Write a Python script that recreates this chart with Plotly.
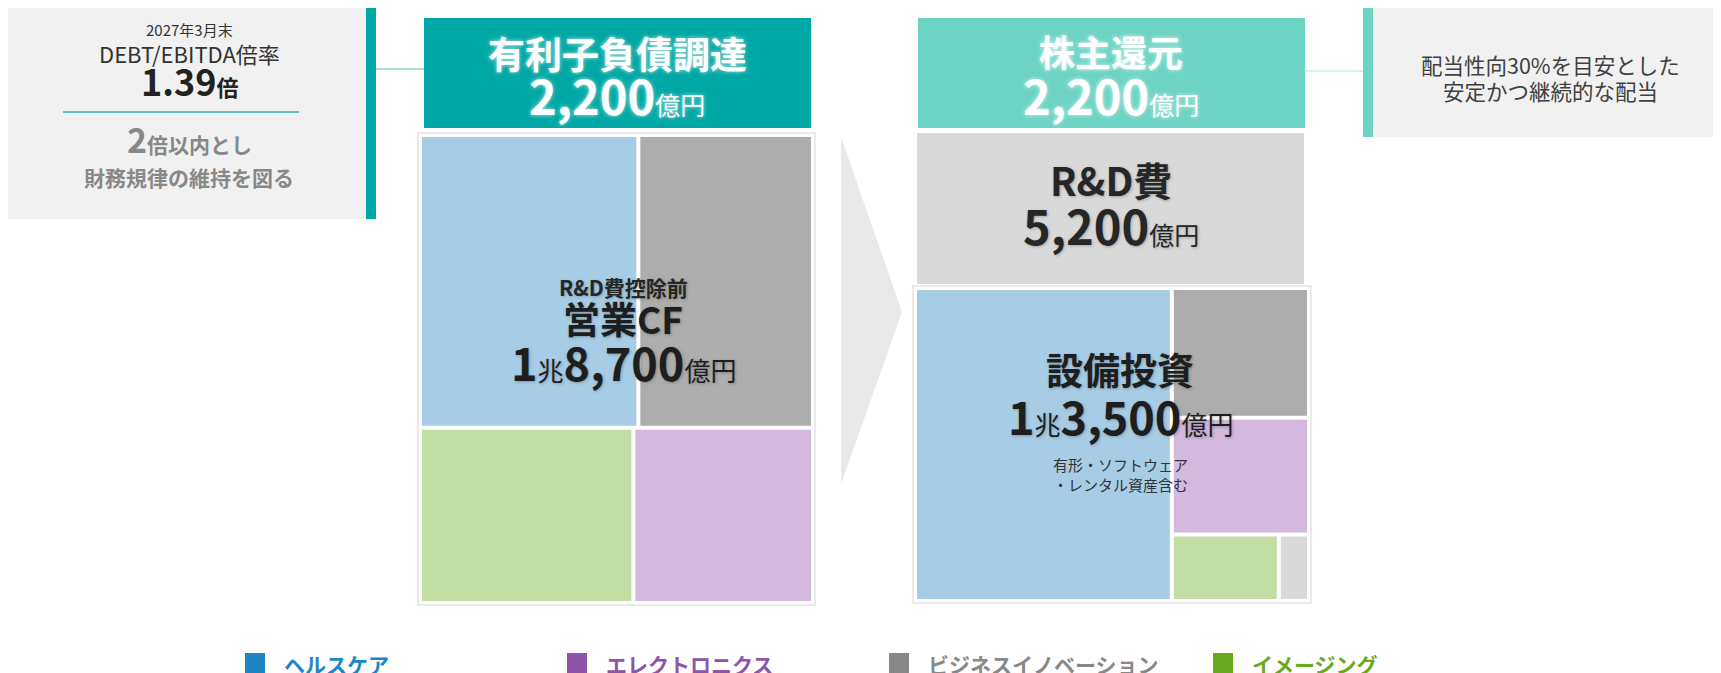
import plotly.graph_objects as go

W, H = 1721, 673
OFF = 8  # page body margin
FONT = "Noto Sans CJK JP"

# ---------------- data ----------------
debt_total = 2200          # 有利子負債調達 (億円)
shareholder_total = 2200   # 株主還元 (億円)
rd_total = 5200            # R&D費 (億円)
cf_total = 18700           # 営業CF (億円)
capex_total = 13500        # 設備投資 (億円)
debt_ebitda = 1.39
debt_ebitda_limit = 2

segments = ["ヘルスケア", "エレクトロニクス", "ビジネスイノベーション", "イメージング"]

cf_labels = ["ヘルスケア", "ビジネスイノベーション", "イメージング", "エレクトロニクス"]
cf_values = [6500, 5200, 3800, 3200]

capex_labels = ["ヘルスケア", "ビジネスイノベーション", "エレクトロニクス", "イメージング", "その他"]
capex_values = [8800, 1950, 1750, 780, 220]

# ---------------- styles ----------------
cell_colors = {
    "ヘルスケア": "#A6CDE5",
    "エレクトロニクス": "#D2B9DD",
    "ビジネスイノベーション": "#ADADAD",
    "イメージング": "#C3DEA5",
    "その他": "#D9D9D9",
}
legend_colors = {
    "ヘルスケア": "#1F86C6",
    "エレクトロニクス": "#8E55A9",
    "ビジネスイノベーション": "#888888",
    "イメージング": "#67AA20",
}
TEAL = "#00A8A5"
MINT = "#6DD4C4"
BOXBG = "#F1F1F1"


def px(x):
    return (x - OFF) / W


def py(y):
    return 1 - (y - OFF) / H


def rect(x0, y0, x1, y1, fill, line=None, lw=0):
    return dict(type="rect", xref="paper", yref="paper",
                x0=px(x0), x1=px(x1), y0=py(y1), y1=py(y0),
                fillcolor=fill, line=dict(color=line or fill, width=lw), layer="below")


def hline(x0, x1, y, color, w):
    return dict(type="line", xref="paper", yref="paper",
                x0=px(x0), x1=px(x1), y0=py(y), y1=py(y),
                line=dict(color=color, width=w))


def ann(x, y, text, size, color="#222222", shadow="none", xanchor="center"):
    return dict(x=px(x), y=py(y), xref="paper", yref="paper", text=text,
                showarrow=False, xanchor=xanchor, yanchor="middle",
                font=dict(family=FONT, size=size, color=color, shadow=shadow))


def sp(t, size, bold=False):
    t = f"<b>{t}</b>" if bold else t
    return f"<span style='font-size:{size}px'>{t}</span>"


def treemap(root, labels, values, box):
    x0, y0, x1, y1 = box
    ids = [root] + [f"{root}/{l}" for l in labels]
    return go.Treemap(
        ids=ids,
        labels=[root] + labels,
        parents=[""] + [root] * len(labels),
        values=[0] + values,
        branchvalues="remainder",
        sort=True,
        textinfo="none",
        textfont=dict(size=1, color="rgba(0,0,0,0)"),
        hoverinfo="label+value",
        tiling=dict(packing="squarify", squarifyratio=1, pad=4),
        pathbar=dict(visible=False),
        marker=dict(
            colors=["#FFFFFF"] + [cell_colors[l] for l in labels],
            line=dict(color=["#E4E4E4"] + ["#FFFFFF"] * len(labels),
                      width=[1.5] + [0] * len(labels)),
            pad=dict(t=4, l=4, r=4, b=4),
            depthfade=False,
        ),
        domain=dict(x=[px(x0), px(x1)], y=[py(y1), py(y0)]),
    )


fig = go.Figure()
fig.add_trace(treemap("営業CF", cf_labels, cf_values, (418, 133, 815, 605)))
fig.add_trace(treemap("設備投資", capex_labels, capex_values, (913, 286, 1311, 603)))

shapes = []
# left info box
shapes.append(rect(8, 7, 366, 219, BOXBG))
shapes.append(rect(366, 7, 376, 219, TEAL))
shapes.append(hline(63, 299, 112, "#3AAFA9", 1.5))
shapes.append(hline(376, 424, 69, "#5CBDB9", 1.2))
# right info box
shapes.append(rect(1373, 8, 1730, 137, BOXBG))
shapes.append(rect(1363, 8, 1373, 137, MINT))
shapes.append(hline(1305, 1363, 71, "#A8E3DA", 1.2))
# headers
shapes.append(rect(424, 18, 811, 128, TEAL))
shapes.append(rect(918, 18, 1305, 128, MINT))
# R&D box
shapes.append(rect(917, 133, 1304, 284, "#D9D9D9"))
# arrow
shapes.append(dict(type="path", xref="paper", yref="paper",
                   path=f"M {px(841)},{py(137)} L {px(902)},{py(312)} L {px(841)},{py(484)} Z",
                   fillcolor="#E9E9E9", line=dict(width=0), layer="below"))
# legend squares
legend_x = [245, 567, 889, 1213]
for seg, lx in zip(segments, legend_x):
    shapes.append(rect(lx, 653, lx + 20, 680, legend_colors[seg]))

annotations = []
# left info box text
annotations.append(ann(189, 30, "2027年3月末", 15, "#333333"))
annotations.append(ann(189, 53, "DEBT/EBITDA倍率", 22, "#333333"))
annotations.append(ann(189, 80, sp(f"{debt_ebitda:.2f}", 36, True) + sp("倍", 22, True), 36, "#222222"))
annotations.append(ann(189, 139, sp(f"{debt_ebitda_limit}", 34, True) + sp("倍以内とし", 21, True), 34, "#888888"))
annotations.append(ann(189, 177, "<b>財務規律の維持を図る</b>", 21, "#888888"))
# right info box text
annotations.append(ann(1550, 64, "配当性向30%を目安とした", 21.5, "#404040"))
annotations.append(ann(1550, 90, "安定かつ継続的な配当", 21.5, "#404040"))

wglow = "0px 0px 4px rgba(255,255,255,0.7)"
dshadow = "1px 1px 3px rgba(0,0,0,0.25)"
# headers
annotations.append(ann(617, 53, "<b>有利子負債調達</b>", 37, "#FFFFFF", wglow))
annotations.append(ann(617, 94, sp(f"{debt_total:,}", 47, True) + sp("億円", 25), 47, "#FFFFFF", wglow))
annotations.append(ann(1111, 51, "<b>株主還元</b>", 36, "#FFFFFF", wglow))
annotations.append(ann(1111, 94, sp(f"{shareholder_total:,}", 47, True) + sp("億円", 25), 47, "#FFFFFF", wglow))
# R&D
annotations.append(ann(1111, 179, "<b>R&amp;D費</b>", 39, "#262626", dshadow))
annotations.append(ann(1111, 225, sp(f"{rd_total:,}", 47, True) + sp("億円", 25), 47, "#262626", dshadow))
# operating CF
annotations.append(ann(623, 287, "<b>R&amp;D費控除前</b>", 21, "#262626", dshadow))
annotations.append(ann(623, 318, "<b>営業CF</b>", 37, "#1E1E1E", dshadow))
annotations.append(ann(623, 361,
                       sp(f"{cf_total // 10000}", 45, True) + sp("兆", 26) +
                       sp(f"{cf_total % 10000:,}", 45, True) + sp("億円", 26), 45, "#1E1E1E", dshadow))
# capex
annotations.append(ann(1120, 369, "<b>設備投資</b>", 37, "#1E1E1E", dshadow))
annotations.append(ann(1120, 416,
                       sp(f"{capex_total // 10000}", 45, True) + sp("兆", 26) +
                       sp(f"{capex_total % 10000:,}", 45, True) + sp("億円", 26), 45, "#1E1E1E", dshadow))
annotations.append(ann(1120, 464, "有形・ソフトウェア", 15, "#333333"))
annotations.append(ann(1120, 484, "・レンタル資産含む", 15, "#333333"))
# legend text
for seg, lx in zip(segments, legend_x):
    annotations.append(ann(lx + 37, 664, f"<b>{seg}</b>", 21, legend_colors[seg], xanchor="left"))

fig.update_layout(
    width=W, height=H,
    margin=dict(l=0, r=0, t=0, b=0),
    paper_bgcolor="#FFFFFF",
    plot_bgcolor="#FFFFFF",
    shapes=shapes,
    annotations=annotations,
    showlegend=False,
    font=dict(family=FONT),
)

fig.write_html("out.html")
